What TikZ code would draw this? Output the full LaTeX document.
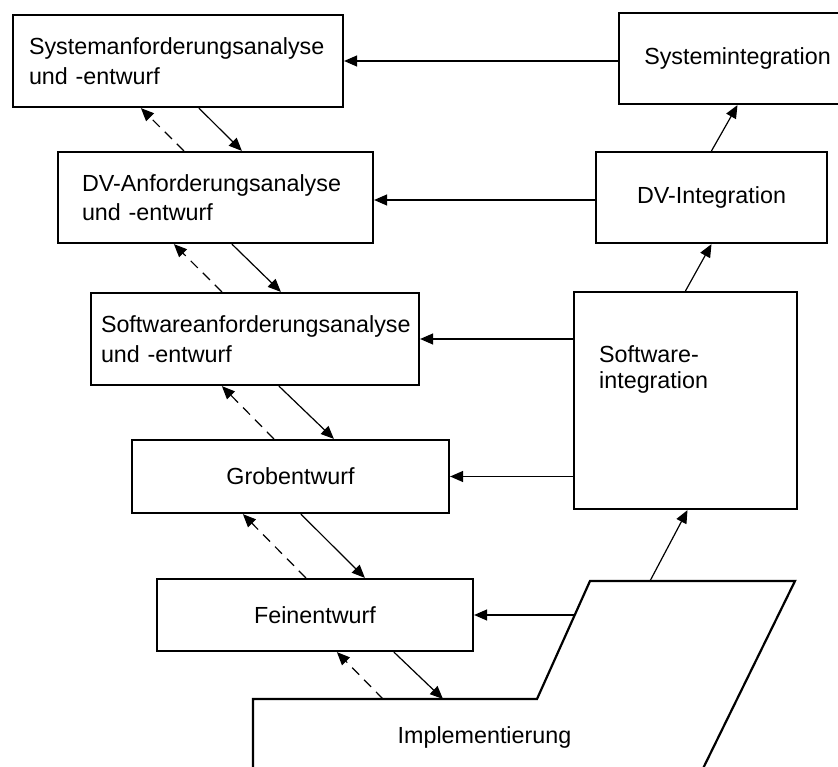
\documentclass[tikz,border=0pt]{standalone}
\usepackage{fontspec}
\setmainfont{Liberation Sans}
\usetikzlibrary{arrows.meta,calc}
\begin{document}
\begin{tikzpicture}[x=1pt,y=-1pt,
  font=\fontsize{23.3}{29.5}\selectfont,
  box/.style={draw, line width=2.2pt, rectangle, inner sep=0pt},
  phase/.style={box, align=left},
  arr/.style={line width=1.2pt, -{Triangle[length=13pt,width=11pt]}},
  back/.style={arr, dash pattern=on 10pt off 7pt},
]
\useasboundingbox (0,0) rectangle (838,767);

% design phases (left column)
\node[phase, minimum width=330pt, minimum height=92pt, inner xsep=16pt, text width=298pt]
  (sysA) at (178,61) {Systemanforderungsanalyse\\und -entwurf};
\node[phase, minimum width=315pt, minimum height=91pt, inner xsep=24pt, text width=267pt]
  (dvA) at (215.5,197.5) {DV-Anforderungsanalyse\\und -entwurf};
\node[phase, minimum width=328pt, minimum height=92pt, inner xsep=10pt, text width=308pt]
  (swA) at (255,339) {Softwareanforderungsanalyse\\und -entwurf};
\node[box, minimum width=317pt, minimum height=73pt] (grob) at (290.5,476.5) {Grobentwurf};
\node[box, minimum width=316pt, minimum height=72pt] (fein) at (315,615) {Feinentwurf};

% integration phases (right column)
\node[box, minimum width=237pt, minimum height=91pt] (sysI) at (737.5,58.5) {Systemintegration};
\node[box, minimum width=231pt, minimum height=91pt] (dvI) at (711.5,197.5) {DV-Integration};
\node[box, minimum width=223pt, minimum height=217pt] (swI) at (685.5,400.5) {};
\node[anchor=north west, inner sep=0pt, align=left, font=\fontsize{23.3}{26.6}\selectfont]
  (swItxt) at (599,345) {Software-\\integration};

% implementation
\coordinate (iTL) at (253,699);
\coordinate (iStep) at (537,699);
\coordinate (iTop) at (590,581);
\coordinate (iTR) at (795,581);
\draw[line width=2.2pt, line join=miter] (253,790) -- (iTL) -- (iStep) -- (iTop) -- (iTR) -- (690,795);
\node[anchor=base, inner sep=0pt] (impl) at (484.5,743) {Implementierung};
\coordinate (implL) at (574.7,615);
\coordinate (implT) at (650,581);

% results handed back to the design phases
\draw[arr] (sysA.east -| sysI.west) -- (sysA.east);
\draw[arr] ([yshift=-2.5pt]dvI.west) -- ([yshift=-2.5pt]dvA.east);
\draw[arr] (swA.east -| swI.west) -- (swA.east);
\draw[arr] (grob.east -| swI.west) -- (grob.east);
\draw[arr] (implL) -- (fein.east);

% integration steps
\draw[arr] (implT) -- ([xshift=2pt]swI.south);
\draw[arr] (swI.north) -- (dvI.south);
\draw[arr] (dvI.north) -- (sysI.south);

% refinement downwards
\draw[arr] ([xshift=187pt]sysA.south west) -- ([xshift=185pt]dvA.north west);
\draw[arr] ([xshift=175pt]dvA.south west) -- ([xshift=191pt]swA.north west);
\draw[arr] ([xshift=189pt]swA.south west) -- ([xshift=203pt]grob.north west);
\draw[arr] ([xshift=170pt]grob.south west) -- ([xshift=209pt]fein.north west);
\draw[arr] ([xshift=238pt]fein.south west) -- ([xshift=190pt]iTL);

% feedback upwards
\draw[back] ([xshift=127pt]dvA.north west) -- ([xshift=129pt]sysA.south west);
\draw[back] ([xshift=132pt]swA.north west) -- ([xshift=117pt]dvA.south west);
\draw[back] ([xshift=143pt]grob.north west) -- ([xshift=132pt]swA.south west);
\draw[back] ([xshift=150pt]fein.north west) -- ([xshift=112pt]grob.south west);
\draw[back] ([xshift=130pt]iTL) -- ([xshift=181pt]fein.south west);
\end{tikzpicture}
\end{document}
